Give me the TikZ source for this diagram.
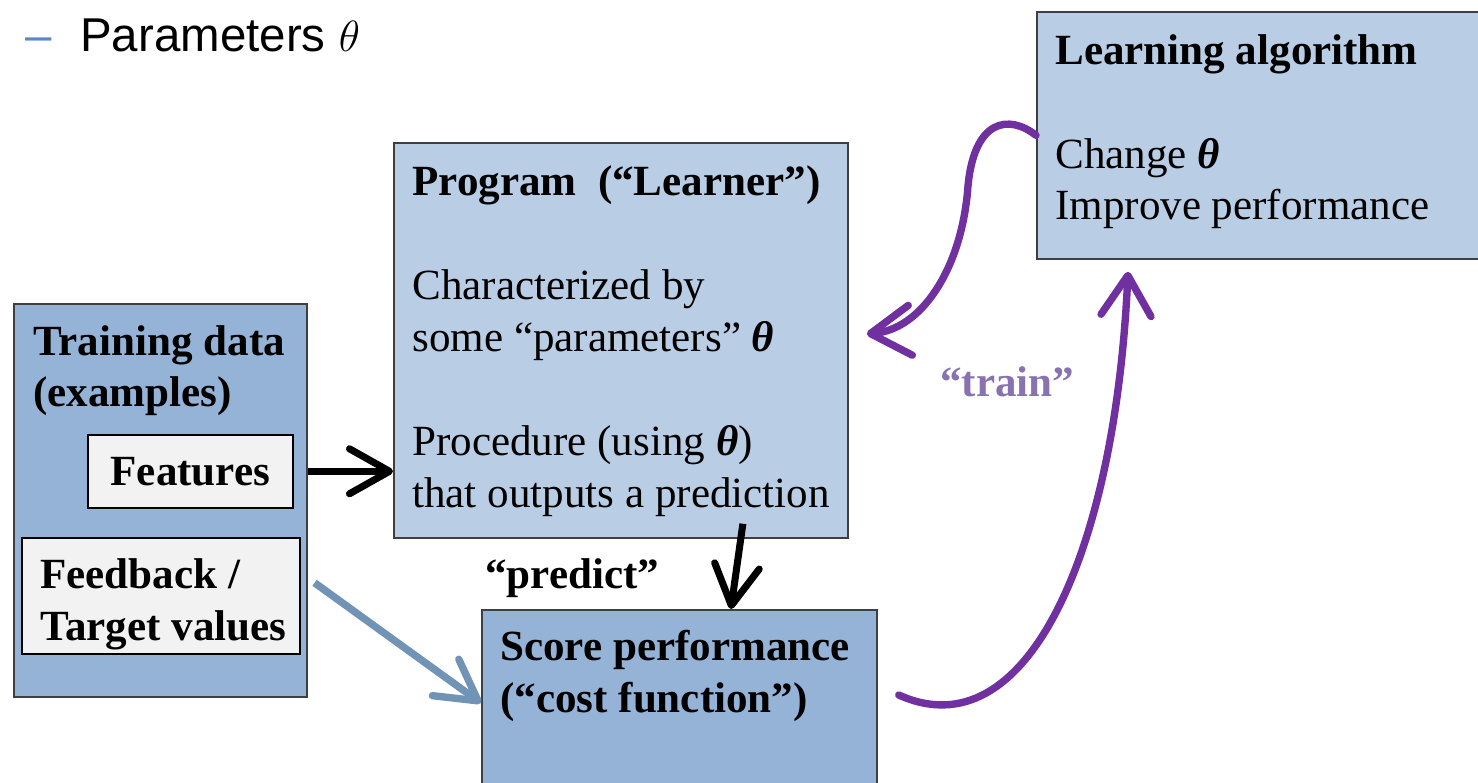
\documentclass[tikz,border=0pt]{standalone}
\usepackage{fontspec}
\setmainfont{Liberation Serif}
\newfontfamily\slidesans{Liberation Sans}
\usetikzlibrary{calc,arrows.meta}
\definecolor{darkfill}{HTML}{95B3D7}
\definecolor{litefill}{HTML}{B9CDE5}
\definecolor{tagfill}{HTML}{F2F2F2}
\definecolor{edge}{HTML}{3F3F3F}
\definecolor{purp}{HTML}{7030A0}
\definecolor{trainlab}{HTML}{8873B0}
\definecolor{steel}{HTML}{7193B5}
\definecolor{bullet}{HTML}{5B87C6}
\newcommand{\thetab}{{\bfseries\itshape θ}}
\tikzset{
  box/.style={draw=edge, line width=1pt, anchor=north west, inner sep=0pt},
  darkbox/.style={box, fill=darkfill},
  litebox/.style={box, fill=litefill},
  tagbox/.style={draw=black, line width=0.9pt, fill=tagfill, anchor=north west, inner sep=0pt, font=\fontsize{24.5}{29.5}\selectfont\bfseries},
  lab/.style={anchor=base west, align=left, inner sep=0pt, font=\fontsize{24.5}{29.5}\selectfont},
  labb/.style={lab, font=\fontsize{24.5}{29.5}\selectfont\bfseries},
  hdr/.style={anchor=base west, inner sep=0pt, font=\slidesans\fontsize{27}{32}\selectfont},
  flow/.style={draw=black, line width=4pt, -{Straight Barb[length=8mm, width=9mm, round]}},
  feed/.style={draw=steel, line width=4.2pt, -{Straight Barb[length=8mm, width=9mm, round]}},
  trainarr/.style={draw=purp, line width=4.2pt, line cap=round, -{Straight Barb[length=8mm, width=10mm, round]}},
}

\begin{document}
\begin{tikzpicture}
  \useasboundingbox (0,0) rectangle (29.56,15.64);
  \clip (0,0) rectangle (29.56,15.64);
  % header line
  \node[hdr, text=bullet] (dash) at (0.5,14.6) {–};
  \node[hdr] (param) at (1.6,14.6) {Parameters $\theta$};

  % boxes
  \node[darkbox, minimum width=5.86cm, minimum height=7.86cm] (train) at (0.26,9.58) {};
  \node[tagbox, minimum width=4.10cm, minimum height=1.46cm] (feat) at (1.74,6.96) {Features};
  \node[tagbox, minimum width=5.56cm, minimum height=2.32cm] (fdbk) at (0.42,4.90) {};
  \node[litebox, minimum width=9.08cm, minimum height=7.90cm] (prog) at (7.86,12.80) {};
  \node[litebox, minimum width=9.60cm, minimum height=4.94cm] (learn) at (20.72,15.42) {};
  \node[darkbox, minimum width=7.90cm, minimum height=4.40cm] (score) at (9.62,3.46) {};

  % texts (base = last line)
  \node[labb] (traintxt) at (0.66,7.50) {Training data\\(examples)};
  \node[labb] (fdbktxt) at (0.80,2.84) {Feedback /\\Target values};
  \node[lab] (progtxt) at (8.24,5.50) {\textbf{Program\ \ (“Learner”)}\\[29.5pt]Characterized by\\some “parameters” \thetab\\[29.5pt]Procedure (using \thetab)\\that outputs a prediction};
  \node[lab] (learntxt) at (21.1,11.24) {\textbf{Learning algorithm}\\[29.5pt]Change \thetab\\Improve performance};
  \node[labb] (scoretxt) at (10.0,1.40) {Score performance\\(“cost function”)};
  \node[labb] (predict) at (9.7,3.88) {“predict”};
  \node[labb, text=trainlab] (trainlbl) at (18.8,7.7) {“train”};

  % connectors
  \draw[flow] (feat.east -| train.east) -- (feat.east -| prog.west);
  \draw[flow] ($(prog.south)+(2.44,0.3)$) -- ($(score.north)+(1.03,0)$);
  \draw[feed] ($(fdbk.east)+(0.28,0.26)$) -- ($(score.north west)+(0,-1.88)$);
  \draw[trainarr] ($(score.north east)+(0.42,-1.72)$) .. controls (20.5,0.6) and (22.3,4.5) .. ($(learn.south west)+(1.84,-0.24)$);
  \draw[trainarr] (learn.west) .. controls (20.2,13.35) and (19.45,13.3) .. (19.35,11.8)
    .. controls (19.2,10.2) and (18.4,9.05) .. ($(prog.east)+(0.36,0.13)$);
\end{tikzpicture}
\end{document}
